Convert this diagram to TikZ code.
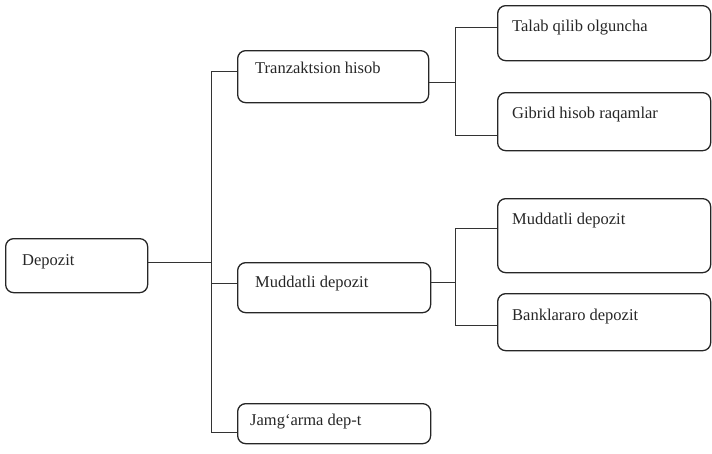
\documentclass[tikz,border=0pt]{standalone}
\usepackage{fontspec}
\setmainfont{Liberation Serif}
\usetikzlibrary{calc}
\begin{document}
\begin{tikzpicture}[x=1pt,y=-1pt,
  box/.style={draw=black!85, line width=1.3pt, rounded corners=8pt, rectangle, inner sep=0pt, anchor=north west},
  lbl/.style={anchor=base west, inner sep=0pt, font=\fontsize{16.5}{18}\selectfont, text=black!85},
  conn/.style={draw=black!80, line width=1pt}]
\useasboundingbox (0,0) rectangle (712,453);
% boxes
\node[box, minimum width=142pt, minimum height=54pt] (dep) at (5,238) {};
\node[box, minimum width=191pt, minimum height=52pt] (tr) at (237,50) {};
\node[box, minimum width=213pt, minimum height=55pt] (talab) at (497,5) {};
\node[box, minimum width=213pt, minimum height=58pt] (gib) at (497,92) {};
\node[box, minimum width=193pt, minimum height=50pt] (mud) at (237,262) {};
\node[box, minimum width=213pt, minimum height=74pt] (mudb) at (497,198) {};
\node[box, minimum width=213pt, minimum height=57pt] (bank) at (497,293) {};
\node[box, minimum width=193pt, minimum height=40pt] (jam) at (237,403) {};
% labels
\node[lbl] (tdep) at ($(dep.north west)+(17,27)$) {Depozit};
\node[lbl] (ttr) at ($(tr.north west)+(18,23)$) {Tranzaktsion hisob};
\node[lbl] (ttalab) at ($(talab.north west)+(15,26)$) {Talab qilib olguncha};
\node[lbl] (tgib) at ($(gib.north west)+(15,26)$) {Gibrid hisob raqamlar};
\node[lbl] (tmud) at ($(mud.north west)+(18,25)$) {Muddatli depozit};
\node[lbl] (tmudb) at ($(mudb.north west)+(15,26)$) {Muddatli depozit};
\node[lbl] (tbank) at ($(bank.north west)+(15,27)$) {Banklararo depozit};
\node[lbl] (tjam) at ($(jam.north west)+(13,22)$) {Jamg`arma dep-t};
% trunk coordinates
\coordinate (s1) at (211,71);
\coordinate (s2) at (211,432);
\coordinate (u1) at (455,27);
\coordinate (u2) at (455,135);
\coordinate (v1) at (455,228);
\coordinate (v2) at (455,325);
% connectors
\draw[conn] (s1) -- (s2);
\draw[conn] ($(dep.east)+(0,-3)$) -- ($(dep.east -| s1)+(0,-3)$);
\draw[conn] (s1) -- (tr.west |- s1);
\draw[conn] ($(mud.west)+(0,-4)$) -- ($(mud.west -| s1)+(0,-4)$);
\draw[conn] (s2) -- (jam.west |- s2);
\draw[conn] (u1) -- (u2);
\draw[conn] ($(tr.east)+(0,6)$) -- ($(tr.east -| u1)+(0,6)$);
\draw[conn] (u1) -- (talab.west |- u1);
\draw[conn] (u2) -- (gib.west |- u2);
\draw[conn] (v1) -- (v2);
\draw[conn] ($(mud.east)+(0,-5)$) -- ($(mud.east -| v1)+(0,-5)$);
\draw[conn] (v1) -- (mudb.west |- v1);
\draw[conn] (v2) -- (bank.west |- v2);
\end{tikzpicture}
\end{document}
